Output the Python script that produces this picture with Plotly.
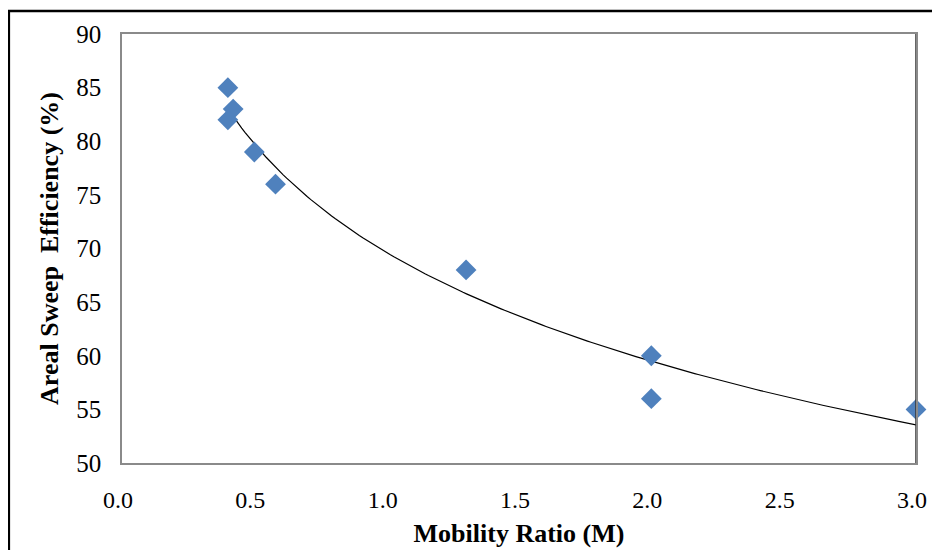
import numpy as np
import plotly.graph_objects as go

# Data
mobility_ratio = [0.40, 0.42, 0.40, 0.50, 0.58, 1.30, 2.00, 2.00, 3.00]
sweep_efficiency = [85, 83, 82, 79, 76, 68, 60, 56, 55]
x_ticks = [0.0, 0.5, 1.0, 1.5, 2.0, 2.5, 3.0]
y_ticks = [50, 55, 60, 65, 70, 75, 80, 85, 90]

# Logarithmic trendline (least-squares fit, like an Excel log trendline)
xs = np.array(mobility_ratio)
ys = np.array(sweep_efficiency)
b, a = np.polyfit(np.log(xs), ys, 1)
fit_x = np.linspace(xs.min(), xs.max(), 200)
fit_y = a + b * np.log(fit_x)

FONT = "Liberation Serif"

fig = go.Figure()
fig.add_trace(go.Scatter(
    x=fit_x, y=fit_y, mode="lines",
    line=dict(color="black", width=1.2),
    showlegend=False, hoverinfo="skip",
))
fig.add_trace(go.Scatter(
    x=mobility_ratio, y=sweep_efficiency, mode="markers",
    marker=dict(symbol="diamond", size=16, color="#4F81BD",
                line=dict(width=0)),
    showlegend=False, cliponaxis=False,
))

fig.update_layout(
    width=924, height=542,
    margin=dict(l=114, r=16, t=26, b=87),
    paper_bgcolor="white", plot_bgcolor="white",
    font=dict(family=FONT, color="black", size=25),
    xaxis=dict(
        range=[0, 3], tickvals=x_ticks, ticktext=[f"{v:.1f}" for v in x_ticks],
        showgrid=False, zeroline=False, showline=True, linecolor="#8a8a8a",
        linewidth=1.5, mirror=True, ticks="", ticklabelstandoff=14,
        ticklabelshift=-4, automargin=False,
        tickfont=dict(family=FONT, size=24),
        title=dict(text="<b>Mobility Ratio (M)</b>", font=dict(family=FONT, size=26),
                   standoff=12),
    ),
    yaxis=dict(
        range=[50, 90], tickvals=y_ticks,
        showgrid=False, zeroline=False, showline=True, linecolor="#8a8a8a",
        linewidth=1.5, mirror=True, ticks="", ticklabelstandoff=14,
        automargin=False,
        tickfont=dict(family=FONT, size=25),
        title=dict(text="<b>Areal Sweep  Efficiency (%)</b>", font=dict(family=FONT, size=26),
                   standoff=10),
    ),
    shapes=[
        dict(type="line", xref="x", yref="paper", x0=3, x1=3, y0=0, y1=1,
             line=dict(color="#333333", width=1.5)),
        dict(type="rect", xref="paper", yref="paper",
             x0=-0.1425, x1=1.06, y0=-0.3, y1=1.0536,
             line=dict(color="black", width=2.5), fillcolor="rgba(0,0,0,0)",
             layer="above"),
    ],
)

fig.write_html("out.html")
